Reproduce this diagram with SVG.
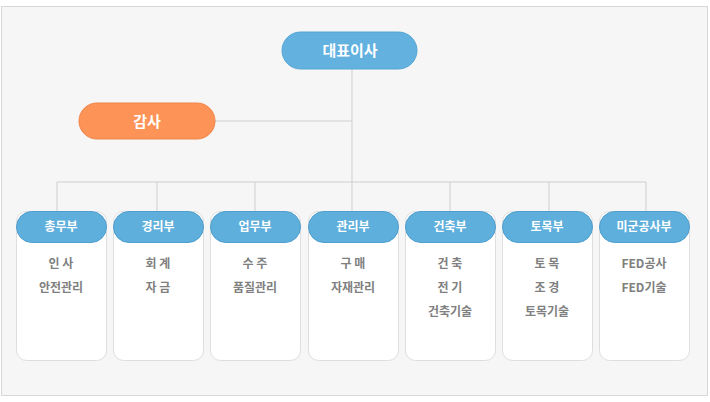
<svg xmlns="http://www.w3.org/2000/svg" width="710" height="402" viewBox="0 0 710 402">
<defs>
<style>
.t{font-family:"Noto Sans CJK KR","Noto Sans",sans-serif;font-weight:bold;text-anchor:middle}
.h{fill:#fff;font-size:12px}
.big{fill:#fff;font-size:15px}
.i{fill:#808080;font-size:12px}
.box{fill:#fff;stroke:#dedede}
.hd{fill:#5fafdc;stroke:#4f9fcf}
.ln{stroke:#cfcfcf;fill:none}
</style>
</defs>
<rect x="1.5" y="6.5" width="706" height="389" fill="#f6f6f6" stroke="#d8d8d8"/>
<g id="connectors" class="ln">
<path d="M352 69V182M215 121H352M57 182H646M57 182V211M157 182V211M255 182V211M352 182V211M450 182V211M549 182V211M646 182V211"/>
</g>
<g id="ceo"><rect x="282" y="32" width="135" height="37" rx="18.5" fill="#62b1df" stroke="#55a5d3"/><text class="t big" x="350" y="56">대표이사</text></g>
<g id="audit"><rect x="79" y="103" width="136" height="36" rx="18" fill="#fd9356" stroke="#f08448"/><text class="t big" x="147" y="127">감사</text></g>
<g id="d1"><rect class="box" x="16.5" y="211.5" width="90" height="149" rx="10"/><rect class="hd" x="16.5" y="211.5" width="90" height="31" rx="15.5"/><text class="t h" x="61" y="231">총무부</text><text class="t i" x="61" y="268">인 사</text><text class="t i" x="61" y="292">안전관리</text></g>
<g id="d2"><rect class="box" x="113.5" y="211.5" width="90" height="149" rx="10"/><rect class="hd" x="113.5" y="211.5" width="90" height="31" rx="15.5"/><text class="t h" x="158" y="231">경리부</text><text class="t i" x="158" y="268">회 계</text><text class="t i" x="158" y="292">자 금</text></g>
<g id="d3"><rect class="box" x="210.5" y="211.5" width="90" height="149" rx="10"/><rect class="hd" x="210.5" y="211.5" width="90" height="31" rx="15.5"/><text class="t h" x="255" y="231">업무부</text><text class="t i" x="255" y="268">수 주</text><text class="t i" x="255" y="292">품질관리</text></g>
<g id="d4"><rect class="box" x="308.5" y="211.5" width="90" height="149" rx="10"/><rect class="hd" x="308.5" y="211.5" width="90" height="31" rx="15.5"/><text class="t h" x="353" y="231">관리부</text><text class="t i" x="353" y="268">구 매</text><text class="t i" x="353" y="292">자재관리</text></g>
<g id="d5"><rect class="box" x="405.5" y="211.5" width="90" height="149" rx="10"/><rect class="hd" x="405.5" y="211.5" width="90" height="31" rx="15.5"/><text class="t h" x="450" y="231">건축부</text><text class="t i" x="450" y="268">건 축</text><text class="t i" x="450" y="292">전 기</text><text class="t i" x="450" y="316">건축기술</text></g>
<g id="d6"><rect class="box" x="502.5" y="211.5" width="90" height="149" rx="10"/><rect class="hd" x="502.5" y="211.5" width="90" height="31" rx="15.5"/><text class="t h" x="547" y="231">토목부</text><text class="t i" x="547" y="268">토 목</text><text class="t i" x="547" y="292">조 경</text><text class="t i" x="547" y="316">토목기술</text></g>
<g id="d7"><rect class="box" x="599.5" y="211.5" width="90" height="149" rx="10"/><rect class="hd" x="599.5" y="211.5" width="90" height="31" rx="15.5"/><text class="t h" x="644" y="231">미군공사부</text><text class="t i" x="644" y="268">FED공사</text><text class="t i" x="644" y="292">FED기술</text></g>
</svg>
